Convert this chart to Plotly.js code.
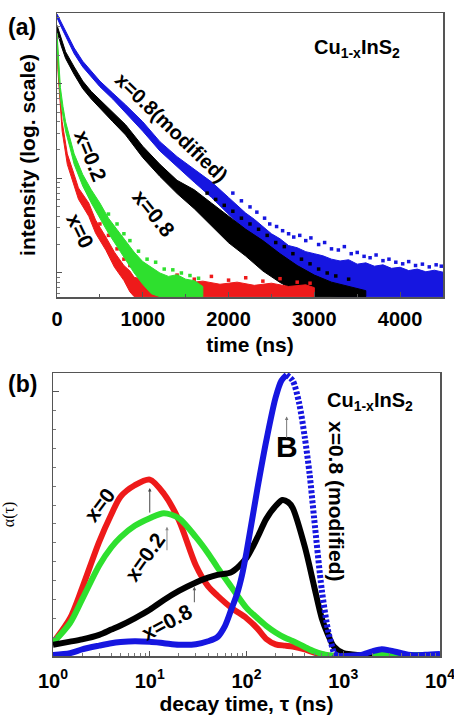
<!DOCTYPE html>
<html><head><meta charset="utf-8">
<script src="https://cdn.plot.ly/plotly-3.0.1.min.js"></script>
<style>html,body{margin:0;padding:0;background:#fff}#chart{width:454px;height:715px}</style>
</head><body><div id="chart"></div>
<script>
// ---------- Panel (a): PL decay, intensity (counts, log axis) vs time (ns) ----------
const blueT  = [0, 50, 100, 200, 300, 400, 500, 650, 800, 1000, 1200, 1400, 1600, 1800, 2000, 2100, 2200, 2300, 2400, 2500, 2600, 2700, 2800, 2900, 3000, 3100, 3200, 3300, 3400, 3500, 3600, 3700, 3800, 3900, 4000, 4100, 4200, 4300, 4400, 4500];
const blueLo = [5012, 3981, 3162, 2089, 1514, 1175, 933, 692, 490, 316, 195, 132, 91.2, 63.1, 41.7, 34, 27.5, 23, 19.1, 16, 13.2, 11.3, 9.55, 8.2, 7.08, 6.3, 5.75, 5.62, 5.62, 5.62, 5.62, 5.62, 5.62, 5.62, 5.62, 5.62, 5.62, 5.62, 5.62, 5.62];
const blueHi = [5495, 4467, 3548, 2399, 1738, 1349, 1072, 800, 600, 398, 245, 170, 124, 92, 63, 52, 43, 37, 31, 26, 23, 19.5, 18.5, 16.8, 16, 15.2, 14, 13.4, 13.8, 12.4, 12.8, 11.8, 12.2, 11.2, 11.5, 10.6, 11, 10.3, 10.7, 10.2];
const blueDotsT = [2050, 2150, 2250, 2330, 2420, 2480, 2560, 2630, 2700, 2760, 2830, 2900, 2960, 3050, 3120, 3200, 3280, 3350, 3430, 3500, 3580, 3650, 3720, 3800, 3870, 3950, 4030, 4100, 4180, 4260, 4340, 4420, 4480];
const blueDotsI = [70, 58, 50, 44, 38, 33, 31, 28, 26, 24, 25, 22, 23.5, 20, 21, 18, 17.5, 19, 16, 16.5, 15, 14.5, 15.5, 13.5, 14, 13, 12.5, 13.2, 12, 12.4, 11.6, 12.2, 11.8];

const blackT  = [0, 50, 100, 200, 300, 400, 500, 650, 800, 1000, 1200, 1400, 1600, 1800, 2000, 2200, 2400, 2600, 2800, 3000, 3200, 3400, 3600];
const blackLo = [3631, 2512, 1862, 1259, 891, 692, 550, 398, 288, 166, 105, 69.2, 47.9, 31.6, 20.9, 15.1, 10.5, 7.94, 6.31, 5.62, 5.62, 5.62, 5.62];
const blackHi = [4169, 2951, 2188, 1514, 1072, 832, 676, 501, 370, 219, 141, 95.5, 75.9, 55, 40, 29, 22, 16, 12, 9.5, 8.0, 7.2, 6.5];
const blackDotsT = [1750, 1850, 1950, 2050, 2150, 2250, 2350, 2450, 2550, 2650, 2750, 2850, 2950, 3050, 3150, 3250, 3400];
const blackDotsI = [70, 60, 52, 45, 38, 33, 29, 25, 21, 19, 16, 14, 12.5, 11, 10, 9.3, 8.6];

const greenT  = [0, 15, 40, 70, 100, 150, 200, 300, 400, 500, 600, 700, 800, 900, 1000, 1100, 1200, 1300, 1400, 1500, 1600, 1700];
const greenLo = [2884, 1413, 692, 457, 316, 214, 141, 83.2, 55.0, 38.0, 26.3, 19.1, 13.8, 10.0, 7.59, 6.03, 5.62, 5.62, 5.62, 5.62, 5.62, 5.62];
const greenHi = [3467, 1905, 912, 575, 398, 269, 182, 110, 75.9, 55.0, 38.0, 28.8, 21.9, 16.6, 13.2, 11.5, 10.0, 9.2, 9.6, 8.6, 8.3, 7.2];
const greenDotsT = [600, 700, 780, 850, 950, 1050, 1150, 1250, 1350, 1450, 1550, 1650];
const greenDotsI = [42, 33, 26, 22, 17, 14, 13, 11, 10.8, 10, 9.4, 8.8];

const redT  = [0, 10, 30, 60, 120, 200, 250, 370, 450, 570, 670, 780, 850, 900, 1100, 1300, 1500, 1700, 1900, 2100, 2300, 2500, 2700, 2900, 3000];
const redLo = [2754, 1413, 692, 316, 141, 83.2, 60.3, 39.8, 26.3, 17.4, 11.5, 8.32, 6.31, 5.62, 5.62, 5.62, 5.62, 5.62, 5.62, 5.62, 5.62, 5.62, 5.62, 5.62, 5.62];
const redHi = [3311, 1820, 891, 398, 182, 110, 79.4, 55.0, 36.3, 24.0, 16.6, 12.0, 10.5, 9.0, 8.2, 8.5, 7.8, 8.2, 7.6, 8.0, 7.4, 7.8, 7.2, 7.5, 7.0];
const redDotsT = [500, 600, 700, 780, 850, 1000, 1200, 1400, 1600, 1800, 2000, 2200, 2400, 2600, 2800, 2950];
const redDotsI = [33, 25, 18, 14, 12, 10, 9, 9.5, 8.6, 9.2, 8.4, 8.9, 8.2, 8.7, 8.0, 7.8];

const xTicksA = [0, 1000, 2000, 3000, 4000];

// ---------- Panel (b): lifetime distribution alpha(tau) ----------
const redTau = [1, 1.5, 2, 3, 4, 5, 7, 10, 14, 20, 30, 40, 50, 70, 100, 130, 160, 200, 250, 300, 400, 500, 700];
const redA   = [0.7, 2.0, 3.6, 6.05, 7.5, 8.45, 9.05, 9.35, 8.6, 7.2, 4.8, 3.7, 3.2, 2.55, 2.0, 1.45, 0.9, 0.62, 0.55, 0.5, 0.35, 0.18, 0.02];

const greenTau = [1, 1.5, 2, 3, 4, 5, 7, 10, 14, 20, 30, 40, 50, 70, 100, 130, 160, 200, 250, 300, 400, 500, 700, 1000, 2000, 5000, 10000];
const greenA   = [0.7, 1.75, 3.0, 4.8, 5.75, 6.3, 6.9, 7.3, 7.57, 7.3, 6.3, 5.45, 4.7, 3.65, 2.55, 2.0, 1.6, 1.25, 0.97, 0.8, 0.48, 0.25, 0.04, 0.05, 0.05, 0.05, 0.05];

const blackTau = [1, 1.5, 2, 3, 4, 5, 7, 10, 14, 20, 30, 40, 50, 70, 100, 130, 160, 200, 235, 270, 300, 400, 500, 600, 700, 800, 1000, 1500, 2000];
const blackA   = [0.6, 0.76, 0.88, 1.12, 1.4, 1.62, 2.0, 2.45, 2.97, 3.45, 3.9, 4.15, 4.3, 4.45, 5.2, 6.3, 7.27, 7.95, 8.27, 8.15, 7.85, 5.8, 3.7, 2.0, 1.1, 0.5, 0.15, 0.05, 0.03];

const blueTau = [1, 1.5, 2, 3, 4, 5, 7, 10, 14, 20, 30, 40, 50, 60, 70, 80, 90, 100, 130, 160, 200, 230, 260, 300, 350, 400, 450, 500, 600, 700, 800, 900, 1000, 1500, 2000, 2500, 3000, 4000, 5000, 7000, 10000];
const blueA   = [0.05, 0.15, 0.35, 0.55, 0.68, 0.74, 0.78, 0.75, 0.68, 0.6, 0.62, 0.78, 1.0, 1.6, 2.5, 3.3, 4.3, 5.5, 8.9, 11.4, 13.7, 14.6, 14.9, 14.6, 13.4, 11.6, 9.6, 7.3, 3.5, 1.3, 0.15, 0.0, 0.0, 0.05, 0.25, 0.36, 0.3, 0.15, 0.05, 0.06, 0.1];

const xTickValsB = [1, 10, 100, 1000, 10000];
const xTickTextB = ['10<sup>0</sup>', '10<sup>1</sup>', '10<sup>2</sup>', '10<sup>3</sup>', '10<sup>4</sup>'];

// ---------- colours / geometry ----------
const C = {blue: '#1616e0', black: '#000000', green: '#2ee02e', red: '#ee1a1a'};
const W = 454, H = 715;
const fx = p => p / W, fy = p => 1 - p / H;
const FONT = 'Arial, "Liberation Sans", sans-serif';
const logMinor = lo => { const v = []; for (let d = lo; d < 4; d++) for (let k = 2; k <= 9; k++) v.push(k * Math.pow(10, d)); return v; };

function band(T, Lo, Hi, col) {
  return {x: T.concat(T.slice().reverse()), y: Hi.concat(Lo.slice().reverse()),
    xaxis: 'x', yaxis: 'y', mode: 'lines', fill: 'toself', fillcolor: col,
    line: {color: col, width: 1}, hoverinfo: 'skip', showlegend: false};
}
function dots(T, I, col) {
  return {x: T, y: I, xaxis: 'x', yaxis: 'y', mode: 'markers',
    marker: {symbol: 'square', size: 3.5, color: col}, showlegend: false};
}
function curve(tau, a, col, dash) {
  return {x: tau, y: a, xaxis: 'x2', yaxis: 'y2', mode: 'lines',
    line: {color: col, width: 6, shape: 'spline', smoothing: 0.8, dash: dash || 'solid'}, showlegend: false};
}
const iPk = blueTau.indexOf(260), iEnd = blueTau.indexOf(800);

const traces = [
  band(blueT, blueLo, blueHi, C.blue), dots(blueDotsT, blueDotsI, C.blue),
  band(blackT, blackLo, blackHi, C.black), dots(blackDotsT, blackDotsI, C.black),
  band(redT, redLo, redHi, C.red), dots(redDotsT, redDotsI, C.red),
  band(greenT, greenLo, greenHi, C.green), dots(greenDotsT, greenDotsI, C.green),
  curve(redTau, redA, C.red),
  curve(greenTau, greenA, C.green),
  curve(blackTau, blackA, C.black),
  curve(blueTau.slice(0, iPk + 1), blueA.slice(0, iPk + 1), C.blue),
  curve(blueTau.slice(iPk, iEnd + 1), blueA.slice(iPk, iEnd + 1), C.blue, '3px,2px'),
  curve(blueTau.slice(iEnd), blueA.slice(iEnd), C.blue)
];

const axBase = {showline: true, mirror: true, linecolor: '#555', linewidth: 1.5,
  ticks: 'inside', tickcolor: '#555', showgrid: false, zeroline: false, automargin: false,
  ticklabeloverflow: 'allow',
  tickfont: {family: FONT, size: 20, color: '#000', weight: 'bold'}};

const layout = {
  width: W, height: H, margin: {l: 0, r: 0, t: 0, b: 0},
  paper_bgcolor: '#fff', plot_bgcolor: '#fff', showlegend: false,
  xaxis: Object.assign({}, axBase, {domain: [fx(57), fx(443)], anchor: 'y', range: [0, 4500],
    tickmode: 'array', tickvals: xTicksA, ticklen: 5, ticklabelstandoff: 3,
    minor: {dtick: 500, tick0: 0, ticks: 'inside', ticklen: 3, tickcolor: '#555'},
    title: {text: 'time (ns)', standoff: 9, font: {family: FONT, size: 21, weight: 'bold', color: '#000'}}}),
  yaxis: Object.assign({}, axBase, {domain: [fy(297), fy(13)], anchor: 'x', type: 'log', range: [0.746, 3.75],
    tickmode: 'array', tickvals: [10, 100, 1000], ticklen: 5, showticklabels: false,
    minor: {tickmode: 'array', tickvals: logMinor(0), ticks: 'inside', ticklen: 2.5, tickcolor: '#777'},
    title: {text: 'intensity (log. scale)', standoff: 14, font: {family: FONT, size: 21, weight: 'bold', color: '#000'}}}),
  xaxis2: Object.assign({}, axBase, {domain: [fx(53), fx(440)], anchor: 'y2', type: 'log', range: [0, 4],
    tickmode: 'array', tickvals: xTickValsB, ticktext: xTickTextB, ticklen: 5, ticklabelstandoff: 6,
    minor: {tickmode: 'array', tickvals: logMinor(0), ticks: 'inside', ticklen: 3, tickcolor: '#777'},
    title: {text: 'decay time, τ (ns)', standoff: 8, font: {family: FONT, size: 21, weight: 'bold', color: '#000'}}}),
  yaxis2: Object.assign({}, axBase, {domain: [fy(656), fy(373)], anchor: 'x2', range: [0, 15],
    tickmode: 'array', tickvals: [0, 14], ticklen: 6, showticklabels: false,
    minor: {dtick: 1, tick0: 0, ticks: 'inside', ticklen: 3, tickcolor: '#777'},
    title: {text: 'α(τ)', standoff: 34, font: {family: '"Liberation Serif", serif', size: 16, color: '#000'}}}),
  annotations: [
    {x: fx(22), y: fy(27), text: '<b>(a)</b>', font: {family: FONT, size: 23, color: '#000'}},
    {x: fx(22), y: fy(384), text: '<b>(b)</b>', font: {family: FONT, size: 23, color: '#000'}},
    {x: fx(357), y: fy(48), text: '<b>Cu<sub>1-x</sub>InS<sub>2</sub></b>', font: {family: FONT, size: 20, color: '#000'}},
    {x: fx(370), y: fy(401), text: '<b>Cu<sub>1-x</sub>InS<sub>2</sub></b>', font: {family: FONT, size: 20, color: '#000'}},
    {x: fx(171), y: fy(127), text: '<b>x=0.8(modified)</b>', textangle: 44, font: {family: FONT, size: 20, color: '#000'}},
    {x: fx(153), y: fy(213), text: '<b>x=0.8</b>', textangle: 51, font: {family: FONT, size: 21, color: '#000'}},
    {x: fx(91), y: fy(155), text: '<b>x=0.2</b>', textangle: 68, font: {family: FONT, size: 21, color: '#000'}},
    {x: fx(80), y: fy(231), text: '<b>x=0</b>', textangle: 64, font: {family: FONT, size: 21, color: '#000'}},
    {x: fx(100), y: fy(505), text: '<b>x=0</b>', textangle: -53, font: {family: FONT, size: 21, color: '#000'}},
    {x: fx(144), y: fy(557), text: '<b>x=0.2</b>', textangle: -55, font: {family: FONT, size: 21, color: '#000'}},
    {x: fx(166), y: fy(622), text: '<b>x=0.8</b>', textangle: -28, font: {family: FONT, size: 21, color: '#000'}},
    {x: fx(287), y: fy(446), text: '<b>B</b>', font: {family: FONT, size: 30, color: '#000'}},
    {x: fx(337), y: fy(501), text: '<b>x=0.8 (modified)</b>', textangle: 90, font: {family: FONT, size: 21, color: '#000'}}
  ].map(a => Object.assign({xref: 'paper', yref: 'paper', xanchor: 'center', yanchor: 'middle', showarrow: false}, a)).concat([
    {xref: 'x2', yref: 'y2', x: 1.0, y: 8.9, ax: 0, ay: 26, text: '', showarrow: true, arrowhead: 2, arrowsize: 0.7, arrowwidth: 1, arrowcolor: '#444'},
    {xref: 'x2', yref: 'y2', x: 1.178, y: 6.85, ax: 0, ay: 25, text: '', showarrow: true, arrowhead: 2, arrowsize: 0.7, arrowwidth: 1, arrowcolor: '#888'},
    {xref: 'x2', yref: 'y2', x: 1.461, y: 3.67, ax: 0, ay: 17, text: '', showarrow: true, arrowhead: 2, arrowsize: 0.7, arrowwidth: 1, arrowcolor: '#555'},
    {xref: 'x2', yref: 'y2', x: 2.415, y: 12.7, ax: 0, ay: 23, text: '', showarrow: true, arrowhead: 2, arrowsize: 0.7, arrowwidth: 1, arrowcolor: '#777'}
  ])
};

Plotly.newPlot('chart', traces, layout, {staticPlot: true, displayModeBar: false});
</script></body></html>
